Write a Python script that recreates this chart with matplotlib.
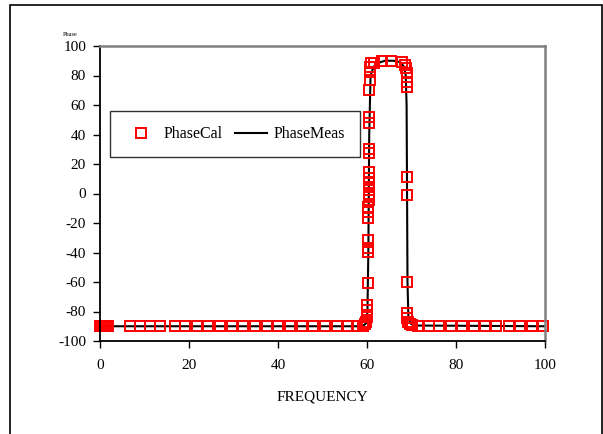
import matplotlib.pyplot as plt
from matplotlib.patches import Rectangle

# PhaseCal points (red squares)
cal_freq = [0, 0.3, 0.6, 1.0, 1.4, 1.8, 6.7, 9.0, 11.2, 13.5, 16.8, 19.1, 21.7, 24.3,
            27.0, 29.6, 32.2, 34.8, 37.5, 40.1, 42.7, 45.3, 47.9, 50.6, 53.2, 55.8,
            57.7, 59.2,
            59.5, 59.8, 60.0, 60.1, 60.1, 60.2, 60.3, 60.3, 60.3, 60.3, 60.3, 60.3,
            60.4, 60.4, 60.4, 60.4, 60.4, 60.4, 60.4, 60.4, 60.4, 60.4, 60.5, 60.5,
            60.5, 60.6, 60.6, 60.7, 61.0, 61.5,
            63.3, 65.5, 67.8, 68.5, 68.8, 68.9, 68.9, 68.9,
            69.0, 69.0, 69.0, 69.0, 69.1, 69.3, 69.6, 70.0,
            71.5, 74.0, 76.2, 78.8, 81.3, 84.1, 86.5, 89.1, 91.8, 94.4, 97.0, 99.6]
cal_phase = [-90, -90, -90, -90, -90, -90, -90, -90, -90, -90, -90, -90, -90, -90,
             -90, -90, -90, -90, -90, -90, -90, -90, -90, -90, -90, -90,
             -90, -89.5,
             -88.5, -87, -84, -79, -75.6, -60.9, -39.5, -37.2, -31.5, -16.8, -12.3, -9,
             -4.4, -2, 0, 2.4, 4.6, 6.9, 10.3, 14.8, 27.3, 30, 48, 52,
             70, 77, 82.6, 86, 88.2, 88.5,
             90, 90, 89.4, 87, 85, 81.5, 75.8, 72.4,
             11.4, -1, -59.8, -81.2, -84.6, -87, -88.5, -89,
             -90, -90, -90, -90, -90, -90, -90, -90, -90, -90, -90, -90]

# PhaseMeas line
meas_freq = [0, 59, 59.8, 60.1, 60.3, 60.5, 60.8, 61.5, 62.5, 64, 66, 67.5, 68.3,
             68.7, 68.9, 69.0, 69.1, 69.3, 69.7, 70.5, 100]
meas_phase = [-90, -90, -88, -80, -40, 40, 80, 86, 88.5, 90, 90, 89, 86,
              80, 60, 0, -60, -84, -88, -89.5, -90]

plt.rcParams['font.family'] = 'Liberation Serif'
plt.rcParams['axes.unicode_minus'] = False

fig = plt.figure(figsize=(6.03, 4.34), dpi=100)
ax = fig.add_axes([100 / 603, 1 - 341 / 434, 445 / 603, 295 / 434])

# outer chart border
fig.patches.append(Rectangle((10 / 603, -0.05), 592 / 603, 1.05 - 5 / 434,
                             transform=fig.transFigure, fill=False,
                             edgecolor='black', linewidth=1.2))

ax.plot(meas_freq, meas_phase, color='black', linewidth=1.5, label='PhaseMeas')
ax.plot(cal_freq, cal_phase, linestyle='none', marker='s', markersize=6.5,
        markerfacecolor='none', markeredgecolor='red', markeredgewidth=1.4,
        label='PhaseCal', clip_on=False)

ax.set_xlim(0, 100)
ax.set_ylim(-100, 100)
ax.set_xticks(range(0, 101, 20))
ax.set_yticks(range(-100, 101, 20))
ax.tick_params(direction='out', length=5, width=1, labelsize=11)
ax.tick_params(axis='x', pad=8)
ax.tick_params(axis='y', pad=5)

for side in ['left', 'bottom']:
    ax.spines[side].set_color('black')
    ax.spines[side].set_linewidth(1.3)
for side in ['top', 'right']:
    ax.spines[side].set_color('#808080')
    ax.spines[side].set_linewidth(1.8)

ax.set_xlabel('FREQUENCY', fontsize=11, labelpad=13)
fig.text(63 / 603, 1 - 37 / 434, 'Phase', fontsize=4.5, ha='left', va='bottom')

handles, labels = ax.get_legend_handles_labels()
leg = ax.legend(handles[::-1], labels[::-1], ncol=2, loc='upper left',
                bbox_to_anchor=(10 / 445, 1 - 65 / 295), borderaxespad=0,
                fontsize=11.5, frameon=True, fancybox=False, edgecolor='black',
                handlelength=2.0, handletextpad=0.4, columnspacing=0.8,
                borderpad=0.95)
leg.get_frame().set_linewidth(1.0)

fig.savefig('out.png', dpi=100)
